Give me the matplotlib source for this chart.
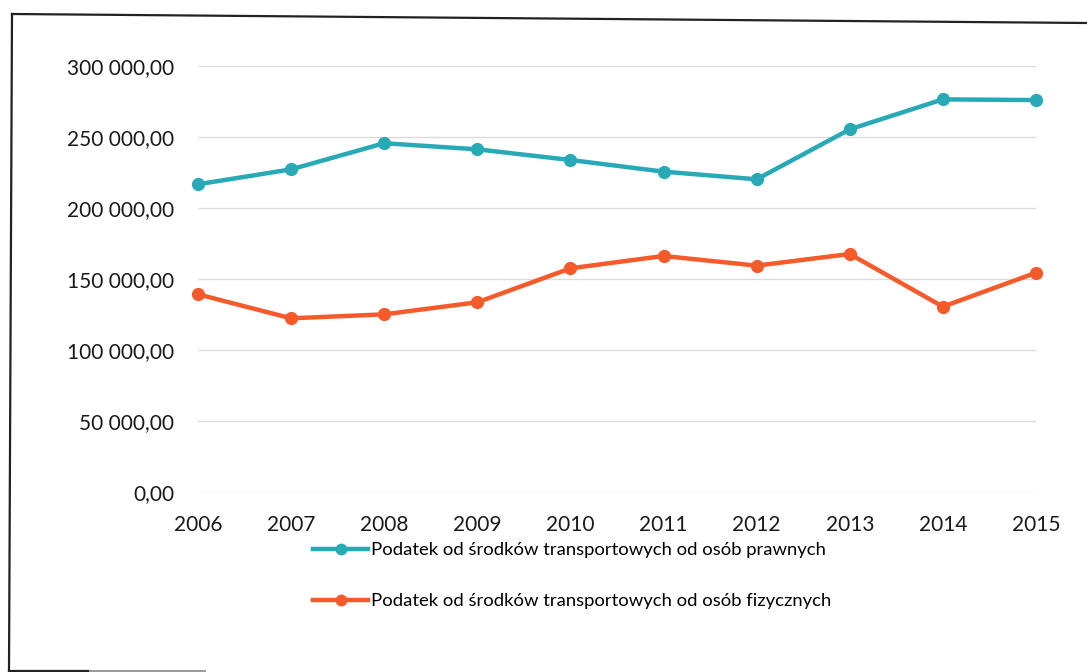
import matplotlib
matplotlib.use('Agg')
import matplotlib.pyplot as plt
from matplotlib.lines import Line2D
from matplotlib.ticker import FuncFormatter

# Data
years = [2006, 2007, 2008, 2009, 2010, 2011, 2012, 2013, 2014, 2015]
prawne = [216500, 227000, 245400, 241100, 233600, 225400, 220000, 255200, 276300, 275800]
fizyczne = [139000, 122100, 124900, 133400, 157300, 166000, 159200, 167400, 130300, 154200]
label_prawne = 'Podatek od środków transportowych od osób prawnych'
label_fizyczne = 'Podatek od środków transportowych od osób fizycznych'

TEAL = '#27a9b6'
ORANGE = '#f55a2b'

plt.rcParams['font.family'] = ['Lato', 'DejaVu Sans']

W, H = 1087, 672
fig = plt.figure(figsize=(W / 100, H / 100), dpi=100)
fig.patch.set_facecolor('white')

ax = fig.add_axes([198 / W, 1 - 491.7 / H, (1036 - 198) / W, (491.7 - 65.7) / H])
ax.set_xlim(years[0], years[-1])
ax.set_ylim(0, 300000)
ax.set_yticks(range(0, 300001, 50000))
ax.set_xticks(years)
ax.set_xticklabels([str(y) for y in years])


def pl_fmt(v, pos):
    s = f'{v:,.2f}'
    return s.replace(',', ' ').replace('.', ',')


ax.yaxis.set_major_formatter(FuncFormatter(pl_fmt))
ax.grid(axis='y', color='#dcdcdc', linewidth=1.0)
ax.set_axisbelow(True)
for s in ax.spines.values():
    s.set_visible(False)
ax.tick_params(axis='both', length=0, labelsize=15, colors='#1a1a1a')
ax.tick_params(axis='y', pad=17)
ax.tick_params(axis='x', pad=17)

ax.plot(years, prawne, color=TEAL, lw=3.2, marker='o', markersize=8.5,
        clip_on=False, label=label_prawne, zorder=3)
ax.plot(years, fizyczne, color=ORANGE, lw=3.2, marker='o', markersize=8.5,
        clip_on=False, label=label_fizyczne, zorder=3)

handles = [
    Line2D([0], [0], color=TEAL, lw=3.2, marker='o', markersize=7.5),
    Line2D([0], [0], color=ORANGE, lw=3.2, marker='o', markersize=7.5),
]
fig.legend(handles, [label_prawne, label_fizyczne], loc='upper left',
           bbox_to_anchor=(313 / W, 1 - 542 / H), frameon=False,
           fontsize=13.3, handlelength=3.0, handletextpad=0.15,
           labelspacing=1.9, borderpad=0, borderaxespad=0)

# scanned page frame
frame = dict(color='#222222', lw=1.6, transform=fig.transFigure)
fig.add_artist(Line2D([12 / W, 1.0], [1 - 14 / H, 1 - 23 / H], **frame))
fig.add_artist(Line2D([12 / W, 9 / W], [1 - 14 / H, 1 - 671 / H], **frame))
fig.add_artist(Line2D([9 / W, 90 / W], [1 - 670.5 / H, 1 - 670.5 / H], **frame))
fig.add_artist(Line2D([90 / W, 205 / W], [1 - 670.5 / H, 1 - 670.5 / H],
                      color='#999999', lw=1.4, transform=fig.transFigure))

fig.savefig('out.png', dpi=100)
